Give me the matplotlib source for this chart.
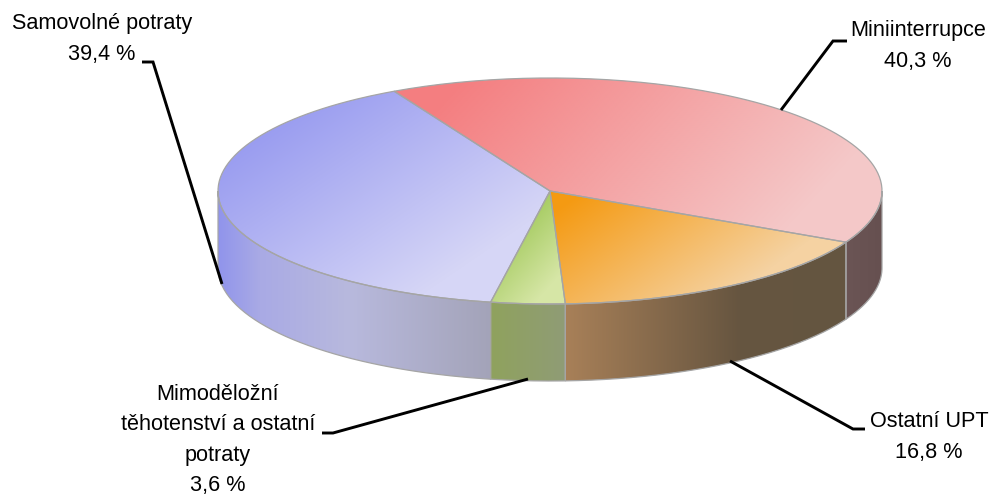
import numpy as np
import matplotlib
matplotlib.use("Agg")
import matplotlib.pyplot as plt
from matplotlib.patches import PathPatch
from matplotlib.path import Path
from matplotlib.colors import to_rgb

plt.rcParams['font.family'] = ['Liberation Sans', 'DejaVu Sans']

# values in the order they go clockwise round the pie
categories = ["Miniinterrupce", "Ostatní UPT", "Mimoděložní\ntěhotenství a ostatní\npotraty", "Samovolné potraty"]
values = [40.3, 16.8, 3.6, 39.4]
value_labels = ["40,3 %", "16,8 %", "3,6 %", "39,4 %"]

# pie geometry in pixels
cx, cy = 550, 191
rx, ry = 332, 113
depth = 77
start_angle = 118

# top face gradients: (start pixel, end pixel, start colour, end colour)
top_styles = [
    ((470, 70), (720, 300), "#f47e80", "#f4c8c8"),
    ((570, 200), (670, 340), "#f49a12", "#f5d2a2"),
    ((510, 240), (555, 280), "#a9cd66", "#d6e6a6"),
    ((270, 120), (400, 310), "#989bf0", "#d6d6f6"),
]
# side gradients: stops along x
side_styles = [
    ([846, 882], ["#6b5555", "#665050"]),
    ([566, 740, 846], ["#a88058", "#665540", "#645540"]),
    ([493, 566], ["#8fa25e", "#8f9c76"]),
    ([218, 260, 350, 493], ["#9094ec", "#a9aae5", "#b8b9dd", "#a3a3b8"]),
]

fig = plt.figure(figsize=(9.94, 4.98), dpi=100)
ax = fig.add_axes([0, 0, 1, 1])
ax.set_xlim(0, 994)
ax.set_ylim(498, 0)
ax.axis("off")

h, w = 498, 994
X, Y = np.meshgrid(np.arange(w) + 0.5, np.arange(h) + 0.5)


def ell(angle):
    a = np.radians(angle)
    return cx + rx * np.cos(a), cy - ry * np.sin(a)


def draw_gradient(verts, rgb):
    path = Path(verts, closed=False)
    patch = PathPatch(path, facecolor="none", edgecolor="none", transform=ax.transData)
    ax.add_patch(patch)
    im = ax.imshow(rgb, extent=(0, w, h, 0), aspect="auto", zorder=2, interpolation="bilinear")
    im.set_clip_path(patch)
    ax.add_patch(PathPatch(path, facecolor="none", edgecolor="#a5a5a5", lw=0.9, zorder=3))


# wedge limits from the values
shares = np.array(values) / sum(values) * 360
ends = start_angle - np.cumsum(shares)
starts = np.concatenate([[start_angle], ends[:-1]])

# sides first, only the front half of the rim shows
for a0, a1, (xs, cols) in zip(starts, ends, side_styles):
    lo = max(a1, -180)
    hi = min(a0, 0)
    if hi <= lo:
        continue
    t = np.linspace(hi, lo, 80)
    ex, ey = ell(t)
    vx = np.concatenate([ex, ex[::-1], ex[:1]])
    vy = np.concatenate([ey, ey[::-1] + depth, ey[:1]])
    stops = np.array([to_rgb(c) for c in cols])
    rgb = np.dstack([np.interp(X, xs, stops[:, i]) for i in range(3)])
    draw_gradient(np.column_stack([vx, vy]), rgb)

# top faces
for a0, a1, (p0, p1, c0, c1) in zip(starts, ends, top_styles):
    t = np.linspace(a0, a1, 150)
    ex, ey = ell(t)
    vx = np.concatenate([[cx], ex, [cx]])
    vy = np.concatenate([[cy], ey, [cy]])
    dx, dy = p1[0] - p0[0], p1[1] - p0[1]
    f = np.clip(((X - p0[0]) * dx + (Y - p0[1]) * dy) / (dx * dx + dy * dy), 0, 1)[..., None]
    rgb = np.array(to_rgb(c0)) * (1 - f) + np.array(to_rgb(c1)) * f
    draw_gradient(np.column_stack([vx, vy]), rgb)

ax.set_xlim(0, 994)
ax.set_ylim(498, 0)

# leader lines
leaders = [
    ([781, 833, 847], [110, 41, 41]),
    ([730, 853, 865], [361, 429, 429]),
    ([528, 333, 322], [379, 433, 433]),
    ([222, 153, 142], [284, 62, 62]),
]
for lx, ly in leaders:
    ax.plot(lx, ly, color="black", lw=2.1, zorder=4, solid_joinstyle="miter", solid_capstyle="butt")

# labels
label_pos = [(918, 46, "center"), (929, 437, "center"), (218, 440, "center"), (102, 39, "center")]
fs = 15.6
for name, val, (tx, ty, ha) in zip(categories, value_labels, label_pos):
    ax.text(tx, ty, name + "\n" + val, ha=ha, va="center", fontsize=fs, color="black",
            linespacing=1.6, zorder=5)

fig.savefig("out.png", dpi=100)
